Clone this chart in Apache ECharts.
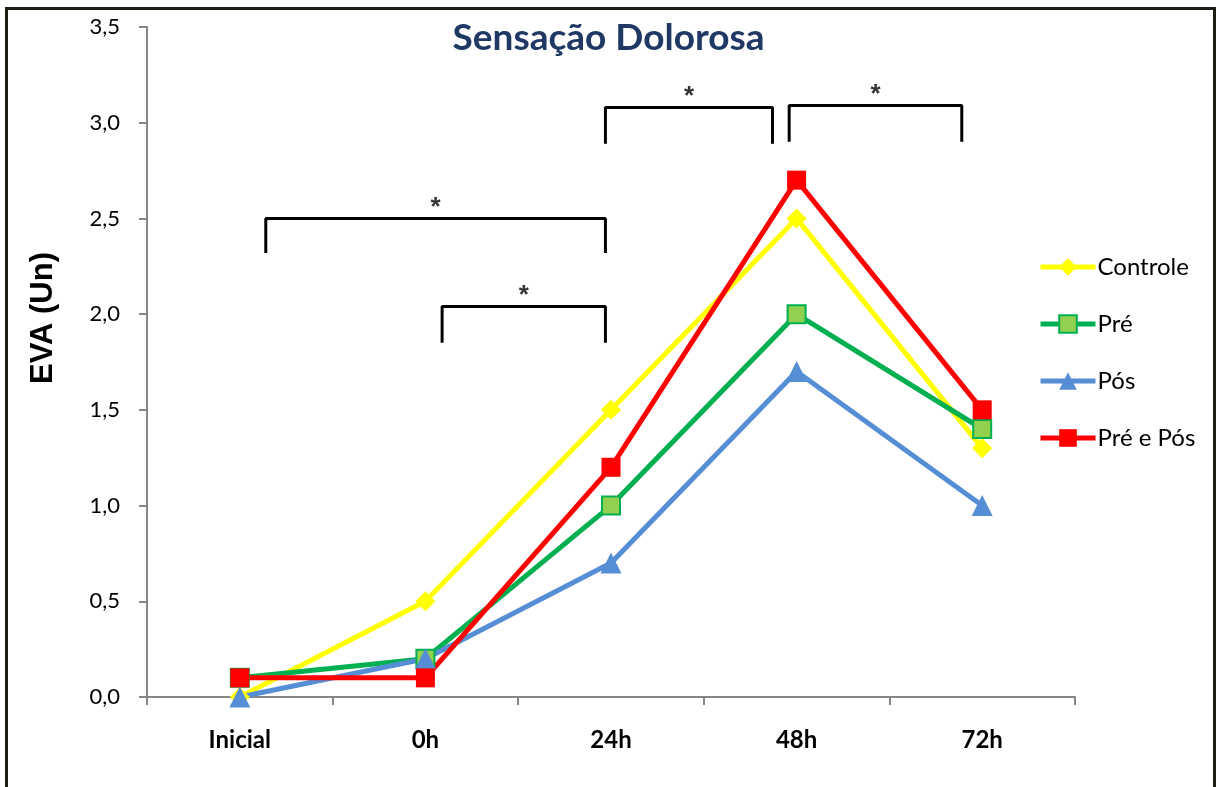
<!DOCTYPE html>
<html>
<head>
<meta charset="utf-8">
<script src="https://cdn.jsdelivr.net/npm/echarts@6/dist/echarts.min.js"></script>
<style>
  html, body { margin: 0; padding: 0; background: #fff; }
  #chart { width: 1217px; height: 787px; }
</style>
</head>
<body>
<div id="chart"></div>
<script>
const categories = ['Inicial', '0h', '24h', '48h', '72h']
const controle = [0.0, 0.5, 1.5, 2.5, 1.3]
const pre = [0.1, 0.2, 1.0, 2.0, 1.4]
const pos = [0.0, 0.2, 0.7, 1.7, 1.0]
const preEPos = [0.1, 0.1, 1.2, 2.7, 1.5]

// significance brackets, x in category-index units
const bracketStart = [0.14, 1.09, 1.97, 2.96]
const bracketEnd = [1.97, 1.97, 2.87, 3.89]
const bracketTop = [2.5, 2.04, 3.08, 3.09]
const bracketBottom = [2.32, 1.85, 2.89, 2.90]

const chart = echarts.init(document.getElementById('chart'))

const lineSeries = (name, data, color, symbol, size, fill) => ({
  name,
  type: 'line',
  data,
  symbol,
  symbolSize: size,
  lineStyle: { color, width: 5 },
  itemStyle: fill
    ? { color: fill, borderColor: color, borderWidth: 2 }
    : { color, borderWidth: 0 },
  color,
  z: 3,
})

const bracketSeries = bracketStart.map((x1, i) => ({
  type: 'line',
  xAxisIndex: 1,
  symbol: 'none',
  silent: true,
  lineStyle: { color: '#000', width: 3 },
  data: [
    [x1, bracketBottom[i]],
    [x1, bracketTop[i]],
    [bracketEnd[i], bracketTop[i]],
    [bracketEnd[i], bracketBottom[i]],
  ],
  z: 2,
}))

const starSeries = {
  type: 'scatter',
  xAxisIndex: 1,
  symbolSize: 0,
  silent: true,
  data: bracketStart.map((x1, i) => [(x1 + bracketEnd[i]) / 2, bracketTop[i]]),
  label: {
    show: true,
    position: 'top',
    distance: -2,
    formatter: '*',
    color: '#000',
    fontSize: 26,
    fontWeight: 'bold',
    fontFamily: 'Liberation Sans',
  },
}

chart.setOption({
  animation: false,
  backgroundColor: '#fff',
  title: {
    text: 'Sensação Dolorosa',
    left: 'center',
    top: 15,
    textStyle: {
      color: '#1f3864',
      fontSize: 37,
      fontWeight: 'bold',
      fontFamily: 'Lato',
    },
  },
  graphic: [
    {
      type: 'rect',
      shape: { x: 6.5, y: 8.5, width: 1208, height: 900 },
      style: { fill: 'none', stroke: '#1e1e17', lineWidth: 3 },
      silent: true,
    },
    {
      type: 'text',
      x: 43,
      y: 318,
      rotation: Math.PI / 2,
      style: {
        text: 'EVA (Un)',
        fontSize: 31,
        fontWeight: 'bold',
        fontFamily: 'Liberation Sans',
        fill: '#000',
        align: 'center',
        verticalAlign: 'middle',
      },
    },
  ],
  legend: {
    orient: 'vertical',
    left: 1038,
    top: 255,
    padding: 0,
    itemWidth: 55,
    itemHeight: 22,
    itemGap: 33,
    lineStyle: { width: 5 },
    data: ['Controle', 'Pré', 'Pós', 'Pré e Pós'],
    textStyle: { color: '#000', fontSize: 24, fontFamily: 'Lato', padding: [0, 0, 0, -3] },
  },
  grid: { left: 147, right: 142, top: 27, bottom: 90 },
  xAxis: [
    {
      type: 'category',
      data: categories,
      boundaryGap: true,
      axisLine: { lineStyle: { color: '#868686', width: 2 } },
      axisTick: { show: true, length: 8, lineStyle: { color: '#868686', width: 2 } },
      axisLabel: {
        color: '#000',
        fontSize: 24,
        fontWeight: 'bold',
        fontFamily: 'Lato',
        margin: 31,
      },
    },
    {
      type: 'value',
      min: -0.5,
      max: 4.5,
      show: false,
    },
  ],
  yAxis: {
    type: 'value',
    min: 0,
    max: 3.5,
    interval: 0.5,
    splitLine: { show: false },
    axisLine: { show: true, onZero: false, lineStyle: { color: '#868686', width: 2 } },
    axisTick: { show: true, length: 8, lineStyle: { color: '#868686', width: 2 } },
    axisLabel: {
      color: '#000',
      fontSize: 22,
      fontFamily: 'Lato',
      margin: 27,
      formatter: (v) => v.toFixed(1).replace('.', ','),
    },
  },
  series: [
    lineSeries('Controle', controle, '#ffff00', 'diamond', 20),
    lineSeries('Pré', pre, '#00b050', 'rect', 18, '#92d050'),
    lineSeries('Pós', pos, '#558ed5', 'triangle', 21),
    lineSeries('Pré e Pós', preEPos, '#ff0000', 'rect', 19),
    ...bracketSeries,
    starSeries,
  ],
})
</script>
</body>
</html>
